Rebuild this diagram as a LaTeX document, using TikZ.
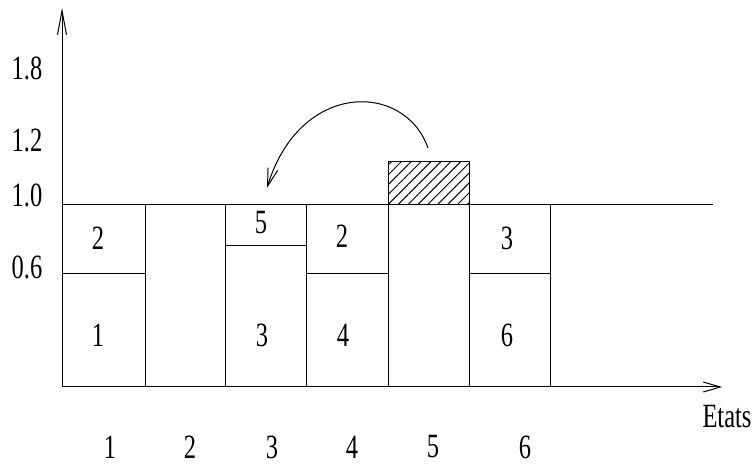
\documentclass[tikz,border=0pt]{standalone}
\usepackage{fontspec}
\setmainfont[FakeStretch=0.72]{Liberation Serif}
\usetikzlibrary{arrows.meta,patterns.meta,positioning}

\begin{document}
\begin{tikzpicture}[x=0.5pt,y=-0.5pt,line width=0.5pt,
  >={Straight Barb[length=9pt,width=5pt]},
  lbl/.style={font=\fontsize{17}{20}\selectfont,inner sep=0pt},
  hatch/.style={draw,pattern={Lines[angle=45,distance=3.5pt,line width=0.5pt]}}]
\useasboundingbox (0,0) rectangle (755,464);
% axes
\coordinate (O) at (62,387);
\coordinate (ytop) at (62,8);
\coordinate (xend) at (722,387);
\draw[-{Straight Barb[length=12pt,width=4.5pt]}] (O) -- (ytop);
\draw[-{Straight Barb[length=8.5pt,width=5pt]}] (O) -- (xend);
\node[lbl] (etats) at (727,417) {Etats};
% level 1.0
\coordinate (l1) at (62,205);
\coordinate (l2) at (713,205);
\draw (l1) -- (l2);
% bars
\foreach \x in {145,225,306,388,469,550}
  \draw (\x,205) -- (\x,387);
\draw (62,274) -- (145,274);
\draw (225,246) -- (306,246);
\draw (306,274) -- (388,274);
\draw (469,274) -- (550,274);
\draw[hatch] (388,162) rectangle (469,205);
% cell labels
\node[lbl] (a2) at (98,238) {2};
\node[lbl] (a1) at (98,335) {1};
\node[lbl] (c5) at (261,223) {5};
\node[lbl] (c3) at (262,335) {3};
\node[lbl] (d2) at (342,236) {2};
\node[lbl] (d4) at (343,335) {4};
\node[lbl] (f3) at (507,238) {3};
\node[lbl] (f6) at (507,335) {6};
% y ticks
\node[lbl] (y18) at (27,68) {1.8};
\node[lbl] (y12) at (27,140) {1.2};
\node[lbl] (y10) at (27,195) {1.0};
\node[lbl] (y06) at (27,267) {0.6};
% states
\node[lbl] (e1) at (110,447) {1};
\node[lbl] (e2) at (190,447) {2};
\node[lbl] (e3) at (272,447) {3};
\node[lbl] (e4) at (352,447) {4};
\node[lbl] (e5) at (433,447) {5};
\node[lbl] (e6) at (525,447) {6};
% move
\coordinate (from) at (428,148);
\coordinate (to) at (267,188);
\draw[->] (from) .. controls (405,82) and (300,80) .. (to);
\end{tikzpicture}
\end{document}
